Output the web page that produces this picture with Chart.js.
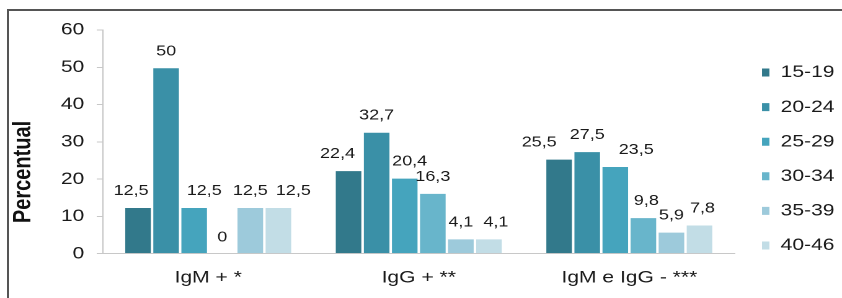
<!DOCTYPE html>
<html><head><meta charset="utf-8">
<script src="https://cdn.jsdelivr.net/npm/chart.js@4/dist/chart.umd.min.js"></script>
<style>
html,body{margin:0;padding:0;background:#fff;width:842px;height:298px;overflow:hidden;}
#frame{position:absolute;left:7px;top:9px;width:900px;height:400px;border-left:2px solid #555;border-top:2px solid #555;}
#wrap{position:absolute;left:0;top:0;width:679px;height:298px;transform:scaleX(1.24);transform-origin:0 0;}
#c{position:absolute;left:0;top:0;}
</style></head>
<body>
<div id="frame"></div>
<div id="wrap"><canvas id="c" width="679" height="298"></canvas></div>
<script>
const categories = ["IgM + *", "IgG + **", "IgM e IgG - ***"];
const seriesNames = ["15-19", "20-24", "25-29", "30-34", "35-39", "40-46"];
const s1519 = [12.5, 22.4, 25.5];
const s2024 = [50, 32.7, 27.5];
const s2529 = [12.5, 20.4, 23.5];
const s3034 = [0, 16.3, 9.8];
const s3539 = [12.5, 4.1, 5.9];
const s4046 = [12.5, 4.1, 7.8];
const yTicks = [0, 10, 20, 30, 40, 50, 60];
const yTitle = "Percentual";
const colors = ["#32798b", "#3a90a7", "#45a4bd", "#68b5cb", "#9dcadb", "#c2dde6"];
const allSeries = [s1519, s2024, s2529, s3034, s3539, s4046];

const FONT = "'Liberation Sans', Arial, sans-serif";

const labelPlugin = {
  id: 'valueLabels',
  afterDatasetsDraw(chart, args, opts) {
    const ctx = chart.ctx;
    const nudge = opts.nudge || [];
    ctx.save();
    ctx.font = "14.5px " + FONT;
    ctx.fillStyle = "#1a1a1a";
    ctx.textAlign = "center";
    ctx.textBaseline = "middle";
    chart.data.datasets.forEach((ds, i) => {
      const meta = chart.getDatasetMeta(i);
      meta.data.forEach((bar, j) => {
        const v = ds.data[j];
        const dx = (nudge[i] && nudge[i][j]) || 0;
        ctx.fillText(String(v).replace('.', ','), bar.x + dx, bar.y - 16);
      });
    });
    ctx.restore();
  }
};
const titlePlugin = {
  id: 'yTitle',
  afterDraw(chart) {
    const ctx = chart.ctx;
    ctx.save();
    ctx.font = "bold 20px " + FONT;
    ctx.fillStyle = "#111";
    ctx.textAlign = "center";
    ctx.textBaseline = "middle";
    ctx.translate(19, 172);
    ctx.rotate(-Math.PI / 2);
    ctx.fillText(yTitle, 0, 0);
    ctx.restore();
  }
};
const legendShift = {
  id: 'legendShift',
  afterLayout(chart) {
    const lg = chart.legend;
    if (lg) { lg.left += 4; lg.right += 4; }
  }
};

new Chart(document.getElementById('c'), {
  type: 'bar',
  data: {
    labels: categories,
    datasets: seriesNames.map((n, i) => ({
      label: n,
      data: allSeries[i],
      backgroundColor: colors[i],
      borderColor: '#ffffff',
      borderWidth: 1,
      categoryPercentage: 0.8,
      barPercentage: 1.0
    }))
  },
  options: {
    responsive: false,
    animation: false,
    devicePixelRatio: 2,
    layout: { padding: { top: 30, bottom: 10, left: 49, right: 0 } },
    plugins: {
      tooltip: { enabled: false },
      valueLabels: {
        // horizontal label nudges (style only), mimicking the reference's hand-placed labels
        nudge: [[-5.6, -8.9, -16.1], [0, 0, 0], [8.1, 4, 16.9], [0, 0, 2.4], [0, 0, 0], [12.1, 5.6, 2.4]]
      },
      legend: {
        position: 'right',
        labels: {
          boxWidth: 7, boxHeight: 9, padding: 17.6,
          color: '#1a1a1a',
          font: { family: FONT, size: 17 }
        }
      }
    },
    scales: {
      x: {
        grid: { display: false, drawTicks: false },
        border: { display: true, color: '#c8c8c8', width: 1 },
        ticks: { color: '#1a1a1a', padding: 14, font: { family: FONT, size: 17 } },
        afterFit(scale) { scale.height = 34.4; }
      },
      y: {
        min: 0, max: 60,
        afterBuildTicks(scale) { scale.ticks = yTicks.map(v => ({ value: v })); },
        grid: { display: true, drawOnChartArea: false, drawTicks: true, tickLength: 5, color: '#c8c8c8' },
        border: { display: true, color: '#c8c8c8', width: 1 },
        ticks: { color: '#1a1a1a', padding: 10, font: { family: FONT, size: 17 } },
        afterFit(scale) { scale.width = 34; }
      }
    }
  },
  plugins: [labelPlugin, titlePlugin, legendShift]
});
</script>
</body></html>
